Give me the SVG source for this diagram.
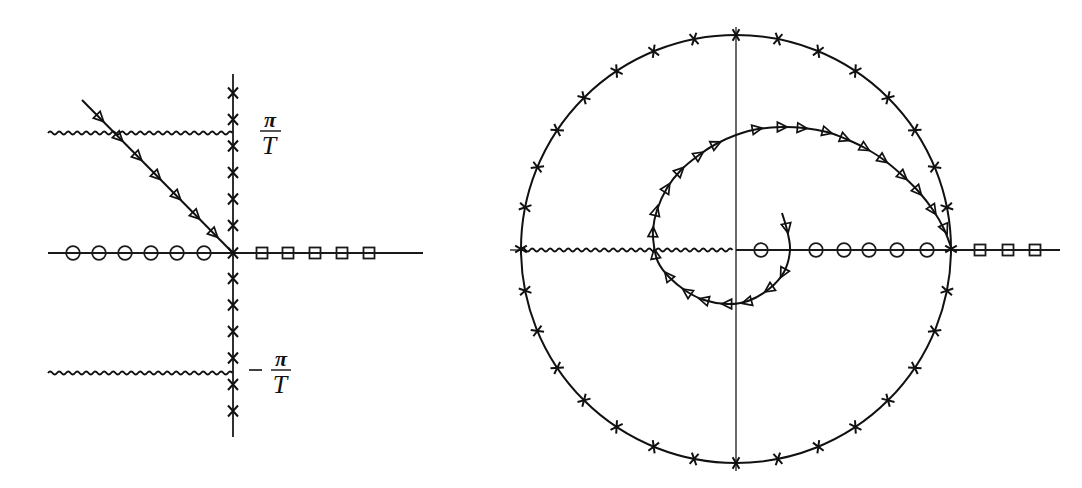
<svg xmlns="http://www.w3.org/2000/svg" width="1082" height="488" viewBox="0 0 1082 488">
<style>
.ax{stroke:#1a1a1a;stroke-width:1.8;fill:none}
.axt{stroke:#1a1a1a;stroke-width:1.3;fill:none}
.cv{stroke:#111;stroke-width:2;fill:none}
.wv{stroke:#111;stroke-width:1.9;fill:none}
.tx{font-family:"Liberation Serif","DejaVu Serif",serif;font-style:italic;fill:#111}
</style>
<defs>
<path id="tri" d="M5.2,0 L-4.6,-4.8 L-4.6,4.8 Z" fill="none" stroke="#111" stroke-width="1.7"/>
<path id="xl" d="M-5,-5.5 L5,5.5 M5,-5.5 L-5,5.5" fill="none" stroke="#111" stroke-width="2"/>
<path id="xc" d="M-3.4,-5.8 L3.4,5.8 M3.4,-5.8 L-3.4,5.8" fill="none" stroke="#111" stroke-width="2"/>
<circle id="oz" r="6.8" fill="none" stroke="#1a1a1a" stroke-width="1.7"/>
<rect id="sq" x="-5.5" y="-5.5" width="11" height="11" fill="none" stroke="#1a1a1a" stroke-width="1.8"/>
</defs>
<rect width="1082" height="488" fill="#fff"/>

<g id="left-plane">
  <g id="left-axes">
    <line class="ax" x1="48" y1="253" x2="423" y2="253"/>
    <line class="ax" x1="233" y1="74" x2="233" y2="437"/>
  </g>
  <g id="left-branch-cuts">
    <path class="wv" d="M48,133 q2.25,-3 4.5,0 t4.5,0 t4.5,0 t4.5,0 t4.5,0 t4.5,0 t4.5,0 t4.5,0 t4.5,0 t4.5,0 t4.5,0 t4.5,0 t4.5,0 t4.5,0 t4.5,0 t4.5,0 t4.5,0 t4.5,0 t4.5,0 t4.5,0 t4.5,0 t4.5,0 t4.5,0 t4.5,0 t4.5,0 t4.5,0 t4.5,0 t4.5,0 t4.5,0 t4.5,0 t4.5,0 t4.5,0 t4.5,0 t4.5,0 t4.5,0 t4.5,0 t4.5,0 t4.5,0 t4.5,0 t4.5,0 t4.5,0"/>
    <path class="wv" d="M48,373 q2.25,-3 4.5,0 t4.5,0 t4.5,0 t4.5,0 t4.5,0 t4.5,0 t4.5,0 t4.5,0 t4.5,0 t4.5,0 t4.5,0 t4.5,0 t4.5,0 t4.5,0 t4.5,0 t4.5,0 t4.5,0 t4.5,0 t4.5,0 t4.5,0 t4.5,0 t4.5,0 t4.5,0 t4.5,0 t4.5,0 t4.5,0 t4.5,0 t4.5,0 t4.5,0 t4.5,0 t4.5,0 t4.5,0 t4.5,0 t4.5,0 t4.5,0 t4.5,0 t4.5,0 t4.5,0 t4.5,0 t4.5,0 t4.5,0"/>
  </g>
  <g id="left-line">
    <line class="cv" x1="82" y1="100" x2="233" y2="253"/>
    <use href="#tri" transform="translate(100,118) rotate(45)"/>
    <use href="#tri" transform="translate(119,137.5) rotate(45)"/>
    <use href="#tri" transform="translate(138,156.7) rotate(45)"/>
    <use href="#tri" transform="translate(157,176) rotate(45)"/>
    <use href="#tri" transform="translate(177,196) rotate(45)"/>
    <use href="#tri" transform="translate(196,215.5) rotate(45)"/>
    <use href="#tri" transform="translate(214,233.7) rotate(45)"/>
  </g>
  <g id="left-poles">
    <use href="#xl" x="233" y="93"/>
    <use href="#xl" x="233" y="119.5"/>
    <use href="#xl" x="233" y="146"/>
    <use href="#xl" x="233" y="172.5"/>
    <use href="#xl" x="233" y="199"/>
    <use href="#xl" x="233" y="225.5"/>
    <use href="#xl" x="233" y="253"/>
    <use href="#xl" x="233" y="278.5"/>
    <use href="#xl" x="233" y="305"/>
    <use href="#xl" x="233" y="331.5"/>
    <use href="#xl" x="233" y="358"/>
    <use href="#xl" x="233" y="384.5"/>
    <use href="#xl" x="233" y="411"/>
  </g>
  <g id="left-zeros">
    <use href="#oz" x="73" y="253"/>
    <use href="#oz" x="99" y="253"/>
    <use href="#oz" x="125" y="253"/>
    <use href="#oz" x="151" y="253"/>
    <use href="#oz" x="177" y="253"/>
    <use href="#oz" x="204" y="253"/>
  </g>
  <g id="left-squares">
    <use href="#sq" x="262" y="253"/>
    <use href="#sq" x="288" y="253"/>
    <use href="#sq" x="315" y="253"/>
    <use href="#sq" x="342" y="253"/>
    <use href="#sq" x="369" y="253"/>
  </g>
  <g id="label-pi-T">
    <text class="tx" x="270" y="127" font-size="22" font-weight="bold" text-anchor="middle">π</text>
    <line x1="260" y1="131" x2="281" y2="131" stroke="#111" stroke-width="1.4"/>
    <text class="tx" x="269" y="154" font-size="26" text-anchor="middle">T</text>
  </g>
  <g id="label-minus-pi-T">
    <line x1="249" y1="370" x2="262" y2="370" stroke="#111" stroke-width="1.6"/>
    <text class="tx" x="281" y="366" font-size="22" font-weight="bold" text-anchor="middle">π</text>
    <line x1="271" y1="370" x2="291" y2="370" stroke="#111" stroke-width="1.4"/>
    <text class="tx" x="280" y="393" font-size="26" text-anchor="middle">T</text>
  </g>
</g>

<g id="right-plane">
  <g id="right-axes">
    <line class="axt" x1="736" y1="27" x2="736" y2="471"/>
    <line class="axt" x1="510" y1="250" x2="521" y2="250"/>
    <line class="ax" x1="736" y1="250" x2="1060" y2="250"/>
  </g>
  <path id="right-branch-cut" class="wv" d="M521,250 q2.25,-3 4.5,0 t4.5,0 t4.5,0 t4.5,0 t4.5,0 t4.5,0 t4.5,0 t4.5,0 t4.5,0 t4.5,0 t4.5,0 t4.5,0 t4.5,0 t4.5,0 t4.5,0 t4.5,0 t4.5,0 t4.5,0 t4.5,0 t4.5,0 t4.5,0 t4.5,0 t4.5,0 t4.5,0 t4.5,0 t4.5,0 t4.5,0 t4.5,0 t4.5,0 t4.5,0 t4.5,0 t4.5,0 t4.5,0 t4.5,0 t4.5,0 t4.5,0 t4.5,0 t4.5,0 t4.5,0 t4.5,0 t4.5,0 t4.5,0 t4.5,0 t4.5,0 t4.5,0 t4.5,0 t4.5,0"/>
  <ellipse id="unit-circle" class="cv" cx="736" cy="249" rx="215" ry="214"/>
  <g id="circle-poles">
    <use href="#xc" transform="translate(951,249) rotate(90)"/>
    <use href="#xc" transform="translate(946.9,207.3) rotate(78.75)"/>
    <use href="#xc" transform="translate(934.6,167.1) rotate(67.5)"/>
    <use href="#xc" transform="translate(914.8,130.1) rotate(56.25)"/>
    <use href="#xc" transform="translate(888,97.7) rotate(45)"/>
    <use href="#xc" transform="translate(855.4,71.1) rotate(33.75)"/>
    <use href="#xc" transform="translate(818.3,51.3) rotate(22.5)"/>
    <use href="#xc" transform="translate(777.9,39.1) rotate(11.25)"/>
    <use href="#xc" transform="translate(736,35) rotate(0)"/>
    <use href="#xc" transform="translate(694.1,39.1) rotate(-11.25)"/>
    <use href="#xc" transform="translate(653.7,51.3) rotate(-22.5)"/>
    <use href="#xc" transform="translate(616.6,71.1) rotate(-33.75)"/>
    <use href="#xc" transform="translate(584,97.7) rotate(-45)"/>
    <use href="#xc" transform="translate(557.2,130.1) rotate(-56.25)"/>
    <use href="#xc" transform="translate(537.4,167.1) rotate(-67.5)"/>
    <use href="#xc" transform="translate(525.1,207.3) rotate(-78.75)"/>
    <use href="#xc" transform="translate(521,249) rotate(90)"/>
    <use href="#xc" transform="translate(525.1,290.7) rotate(78.75)"/>
    <use href="#xc" transform="translate(537.4,330.9) rotate(67.5)"/>
    <use href="#xc" transform="translate(557.2,367.9) rotate(56.25)"/>
    <use href="#xc" transform="translate(584,400.3) rotate(45)"/>
    <use href="#xc" transform="translate(616.6,426.9) rotate(33.75)"/>
    <use href="#xc" transform="translate(653.7,446.7) rotate(22.5)"/>
    <use href="#xc" transform="translate(694.1,458.9) rotate(11.25)"/>
    <use href="#xc" transform="translate(736,463) rotate(0)"/>
    <use href="#xc" transform="translate(777.9,458.9) rotate(-11.25)"/>
    <use href="#xc" transform="translate(818.3,446.7) rotate(-22.5)"/>
    <use href="#xc" transform="translate(855.4,426.9) rotate(-33.75)"/>
    <use href="#xc" transform="translate(888,400.3) rotate(-45)"/>
    <use href="#xc" transform="translate(914.8,367.9) rotate(-56.25)"/>
    <use href="#xc" transform="translate(934.6,330.9) rotate(-67.5)"/>
    <use href="#xc" transform="translate(946.9,290.7) rotate(-78.75)"/>
  </g>
  <g id="spiral">
    <path class="cv" d="M782,213 C782.8,215.8 785.7,223.8 787,230 C788.3,236.2 790.5,243 790,250 C789.5,257 787.5,265.5 784,272 C780.5,278.5 775,284.2 769,289 C763,293.8 755,298.5 748,301 C741,303.5 734.3,304.2 727,304 C719.7,303.8 710.8,302.2 704,300 C697.2,297.8 691.8,294.8 686,291 C680.2,287.2 673.7,281.8 669,277 C664.3,272.2 660.5,267.2 658,262 C655.5,256.8 654.8,251.3 654,246 C653.2,240.7 652.5,236 653,230 C653.5,224 654.7,217 657,210 C659.3,203 663,194.7 667,188 C671,181.3 675.7,175.5 681,170 C686.3,164.5 693.2,159.3 699,155 C704.8,150.7 709.8,147.3 716,144 C722.2,140.7 729,137.5 736,135 C743,132.5 750.3,130.3 758,129 C765.7,127.7 774.3,127.2 782,127 C789.7,126.8 796.5,127.2 804,128 C811.5,128.8 820,130.2 827,132 C834,133.8 839.7,136.3 846,139 C852.3,141.7 858.7,144.5 865,148 C871.3,151.5 877.7,155.3 884,160 C890.3,164.7 897.2,170.7 903,176 C908.8,181.3 914,186.3 919,192 C924,197.7 928.8,203.8 933,210 C937.2,216.2 940.8,222.3 944,229 C947.2,235.7 950.7,246.5 952,250"/>
    <use href="#tri" transform="translate(787,228) rotate(78)"/>
    <use href="#tri" transform="translate(783,273) rotate(118)"/>
    <use href="#tri" transform="translate(769,289) rotate(145)"/>
    <use href="#tri" transform="translate(747,302) rotate(165)"/>
    <use href="#tri" transform="translate(727,304) rotate(180)"/>
    <use href="#tri" transform="translate(704,300) rotate(195)"/>
    <use href="#tri" transform="translate(687,292) rotate(215)"/>
    <use href="#tri" transform="translate(668,276) rotate(232)"/>
    <use href="#tri" transform="translate(655,254) rotate(260)"/>
    <use href="#tri" transform="translate(653,232) rotate(272)"/>
    <use href="#tri" transform="translate(656,211) rotate(285)"/>
    <use href="#tri" transform="translate(667,188) rotate(302)"/>
    <use href="#tri" transform="translate(680,171) rotate(315)"/>
    <use href="#tri" transform="translate(699,155) rotate(325)"/>
    <use href="#tri" transform="translate(716,144) rotate(335)"/>
    <use href="#tri" transform="translate(757,129) rotate(350)"/>
    <use href="#tri" transform="translate(782,127) rotate(0)"/>
    <use href="#tri" transform="translate(802,128) rotate(5)"/>
    <use href="#tri" transform="translate(827,132) rotate(15)"/>
    <use href="#tri" transform="translate(845,138.5) rotate(22)"/>
    <use href="#tri" transform="translate(865,148) rotate(30)"/>
    <use href="#tri" transform="translate(883,159.5) rotate(36)"/>
    <use href="#tri" transform="translate(903,176) rotate(42)"/>
    <use href="#tri" transform="translate(918,191) rotate(49)"/>
    <use href="#tri" transform="translate(933,210) rotate(56)"/>
    <use href="#tri" transform="translate(945,229) rotate(66)"/>
  </g>
  <g id="right-zeros">
    <use href="#oz" x="761" y="250"/>
    <use href="#oz" x="816" y="250"/>
    <use href="#oz" x="844" y="250"/>
    <use href="#oz" x="869" y="250"/>
    <use href="#oz" x="897" y="250"/>
    <use href="#oz" x="927" y="250"/>
  </g>
  <g id="right-squares">
    <use href="#sq" x="980" y="250"/>
    <use href="#sq" x="1008" y="250"/>
    <use href="#sq" x="1035" y="250"/>
  </g>
</g>
</svg>
